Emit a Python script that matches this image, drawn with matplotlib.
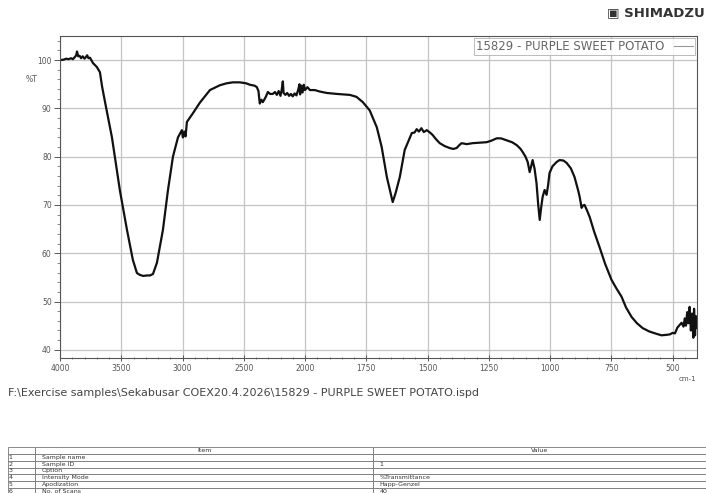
import numpy as np
import matplotlib.pyplot as plt
from matplotlib.ticker import FixedLocator, NullFormatter

# spectrum (wavenumber cm-1, %T)
wavenumber = [4000, 3970, 3950, 3930, 3910, 3895, 3880, 3868, 3861, 3852, 3840, 3828, 3815, 3800,
              3790, 3778, 3768, 3755, 3742, 3731, 3700, 3674, 3657, 3633, 3576, 3511, 3453, 3405,
              3372, 3347, 3320, 3290, 3265, 3241, 3209, 3160, 3119, 3078, 3037, 3005, 2997, 2985,
              2975, 2964, 2915, 2858, 2776, 2695, 2640, 2589, 2532, 2480, 2450, 2410, 2393, 2380,
              2369, 2356, 2344, 2320, 2303, 2285, 2263, 2245, 2230, 2215, 2200, 2190, 2181, 2175,
              2160, 2145, 2130, 2115, 2100, 2085, 2070, 2055, 2045, 2040, 2030, 2020, 2010, 2000,
              1990, 1980, 1960, 1940, 1911, 1870, 1817, 1790, 1764, 1736, 1707, 1687, 1666, 1646,
              1642, 1630, 1613, 1593, 1575, 1564, 1553, 1544, 1535, 1525, 1515, 1503, 1490, 1479,
              1465, 1450, 1430, 1410, 1395, 1381, 1370, 1361, 1340, 1316, 1290, 1259, 1240, 1218,
              1200, 1177, 1155, 1136, 1120, 1112, 1100, 1091, 1083, 1077, 1071, 1063, 1055, 1048,
              1042, 1036, 1030, 1022, 1014, 1008, 1002, 990, 973, 961, 945, 932, 915, 900,
              885, 879, 871, 865, 859, 850, 838, 820, 798, 775, 749, 730, 708, 690,
              667, 645, 622, 595, 565, 545, 524, 510, 500, 490, 480, 470, 463, 455,
              450, 445, 440, 435, 430, 425, 420, 415, 412, 408, 405, 402, 400]
transmittance = [100.0, 100.1, 100.3, 100.2, 100.4, 100.2, 100.6, 101.0, 101.8, 100.8, 100.9, 100.4, 100.8, 100.3,
                 100.6, 101.0, 100.4, 100.5, 99.9, 99.4, 98.6, 97.5, 94.6, 91.4, 84.0, 73.0, 64.8, 58.6,
                 55.9, 55.5, 55.3, 55.4, 55.4, 55.7, 58.0, 64.8, 73.0, 80.0, 84.0, 85.5, 84.0, 85.2,
                 84.2, 87.2, 89.0, 91.2, 93.8, 94.8, 95.2, 95.4, 95.4, 95.2, 94.9, 94.7, 94.4, 93.6,
                 91.0, 91.8, 91.3, 92.4, 93.4, 93.0, 93.0, 93.4, 92.8, 93.6, 92.6, 93.9, 95.6, 93.2,
                 92.8, 93.2, 92.6, 93.0, 92.5, 93.1, 92.7, 93.9, 95.0, 92.9, 94.7, 93.3, 94.9, 93.8,
                 94.4, 93.8, 93.8, 93.5, 93.2, 93.0, 92.8, 92.4, 91.3, 89.6, 86.1, 82.0, 75.8, 71.4,
                 70.6, 72.5, 75.8, 81.4, 83.6, 84.9, 85.0, 85.7, 85.2, 85.9, 85.1, 85.5, 85.0, 84.5,
                 83.6, 82.8, 82.2, 81.8, 81.6, 81.8, 82.4, 82.8, 82.6, 82.8, 82.9, 83.0, 83.3, 83.8,
                 83.8, 83.4, 83.0, 82.4, 81.6, 81.0, 80.0, 78.9, 76.8, 78.0, 79.3, 77.5, 74.5, 70.0,
                 66.9, 69.5, 71.7, 73.1, 72.1, 74.0, 76.6, 78.0, 78.9, 79.3, 79.2, 78.7, 77.6, 75.8,
                 73.0, 71.7, 69.4, 69.9, 70.0, 69.0, 67.5, 64.5, 61.3, 57.8, 54.5, 52.8, 51.0, 48.8,
                 46.8, 45.5, 44.5, 43.8, 43.3, 43.0, 43.1, 43.2, 43.5, 43.4, 44.6, 45.2, 45.6, 44.8,
                 46.5, 45.0, 47.8, 45.5, 48.9, 44.0, 47.5, 42.5, 48.5, 43.0, 47.0, 44.5, 46.0]

major_x = [4000, 3500, 3000, 2500, 2000, 1750, 1500, 1250, 1000, 750, 500]
major_y = [40, 50, 60, 70, 80, 90, 100]
sample_name = "15829 - PURPLE SWEET POTATO"
file_path = "F:\\Exercise samples\\Sekabusar COEX20.4.2026\\15829 - PURPLE SWEET POTATO.ispd"

table_header = ["", "Item", "Value"]
table_rows = [["1", "Sample name", ""],
              ["2", "Sample ID", "1"],
              ["3", "Option", ""],
              ["4", "Intensity Mode", "%Transmittance"],
              ["5", "Apodization", "Happ-Genzel"],
              ["6", "No. of Scans", "40"]]


# shimadzu style axis: 500 per grid above 2000, 250 per grid below
def fwd(x):
    x = np.asarray(x, dtype=float)
    return np.where(x >= 2000, x / 500.0, x / 250.0 - 4.0)


def inv(u):
    u = np.asarray(u, dtype=float)
    return np.where(u >= 4, u * 500.0, (u + 4.0) * 250.0)


fig = plt.figure(figsize=(7.06, 4.93), dpi=100)
ax = fig.add_axes([60 / 706, 1 - 358 / 493, 637 / 706, 322 / 493])
ax.set_xscale('function', functions=(fwd, inv))

ax.plot(wavenumber, transmittance, color='#111111', lw=1.6, label=sample_name)

ax.set_xlim(4000, 400)
ax.set_ylim(38.3, 105)
ax.xaxis.set_major_locator(FixedLocator(major_x))
ax.xaxis.set_major_formatter(plt.FuncFormatter(lambda v, p: '%d' % round(v)))
minor_x = [v for v in range(3900, 2000, -100) if v not in major_x] + \
          [v for v in range(1950, 400, -50) if v not in major_x]
ax.xaxis.set_minor_locator(FixedLocator(minor_x))
ax.xaxis.set_minor_formatter(NullFormatter())
ax.yaxis.set_major_locator(FixedLocator(major_y))
ax.yaxis.set_minor_locator(FixedLocator(list(range(40, 105, 2))))

ax.grid(True, which='major', color='#c4c4c4', lw=0.9)
ax.tick_params(which='major', length=4, width=0.7, colors='#555555', labelsize=5.5, pad=2)
ax.tick_params(which='minor', length=2, width=0.6, colors='#777777')
ax.tick_params(axis='x', which='both', direction='inout')
for s in ax.spines.values():
    s.set_color('#555555')
    s.set_linewidth(0.8)

ax.text(-0.045, 0.865, '%T', transform=ax.transAxes, fontsize=5.5, color='#555555', ha='center', va='center')
ax.text(0.985, -0.055, 'cm-1', transform=ax.transAxes, fontsize=5, color='#555555', ha='center', va='top')

leg = ax.legend(loc='upper right', markerfirst=False, fontsize=8.5, frameon=True, fancybox=False,
                borderaxespad=0.15, handlelength=1.6, borderpad=0.2, labelcolor='#666666')
leg.get_frame().set_edgecolor('#aaaaaa')
leg.get_frame().set_linewidth(0.7)
leg.get_lines()[0].set_color('#999999')
leg.get_lines()[0].set_linewidth(0.8)

fig.text(0.998, 1 - 13 / 493, '\u25a3 SHIMADZU', fontsize=9.5, fontweight='bold', color='#333333',
         ha='right', va='center')
fig.text(8 / 706, 1 - 393 / 493, file_path, fontsize=8, color='#444444', ha='left', va='center')

# parameter table at the bottom, cut by the figure edge
tab_ax = fig.add_axes([8 / 706, -0.004, 698 / 706, 1 - 447 / 493 + 0.004])
tab_ax.axis('off')
tab = tab_ax.table(cellText=table_rows, colLabels=table_header, colWidths=[0.039, 0.484, 0.477],
                   cellLoc='left', loc='center', bbox=[0, 0, 1, 1])
tab.auto_set_font_size(False)
tab.set_fontsize(4.5)
for (r, c), cell in tab.get_celld().items():
    cell.set_edgecolor('#777777')
    cell.set_linewidth(0.6)
    cell.get_text().set_color('#333333')
    cell.PAD = 0.02
    if r == 0:
        cell.get_text().set_ha('center')

fig.savefig('out.png', dpi=100)
